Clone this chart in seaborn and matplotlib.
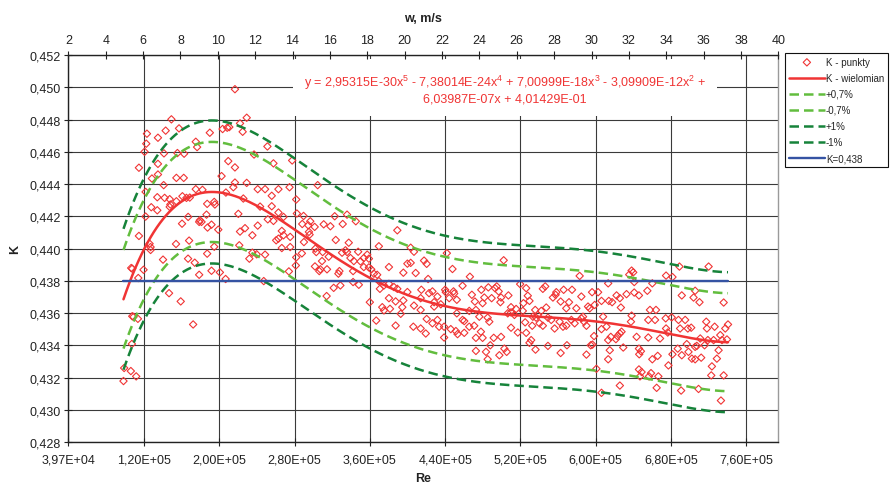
import numpy as np
import pandas as pd
import matplotlib
matplotlib.use("Agg")
import matplotlib.pyplot as plt
import seaborn as sns

# ---------------- data ----------------
# measured points: Reynolds number in thousands, K value
re_k = [
    216.7, 149.2, 229.2, 222.1, 157.3, 143.1, 123.2, 134.9, 190.0, 203.6, 208.5, 210.7, 224.9, 175.1, 176.5,
    122.5, 120.7, 251.2, 155.6, 162.7, 141.3, 237.0, 277.5, 134.9, 209.6, 257.6, 216.7, 114.7, 134.9, 128.5,
    154.5, 162.3, 202.5, 141.0, 216.7, 229.2, 215.0, 304.6, 274.7, 262.9, 248.7, 240.9, 175.1, 182.2, 207.1,
    121.8, 134.2, 142.0, 147.4, 148.1, 147.4, 160.9, 165.2, 168.7, 154.5, 187.2, 194.7, 195.4, 255.8, 225.6,
    127.8, 134.2, 121.8, 281.8, 243.4, 255.8, 262.9, 268.3, 220.3, 186.5, 167.0, 179.4, 181.2, 178.7, 282.5,
    289.6, 296.7, 288.2, 294.6, 301.4, 295.3, 296.0, 322.7, 335.8, 331.2, 345.1, 311.0, 318.1, 160.5, 191.8,
    187.6, 199.0, 227.4, 222.1, 240.9, 251.6, 257.6, 266.5, 262.9, 260.5, 268.3, 275.4, 235.2, 114.7, 389.2,
    290.0, 323.8, 337.6, 302.1, 303.1, 126.0, 127.1, 127.1, 154.1, 168.0, 194.7, 221.3, 235.2, 239.8, 248.7,
    232.0, 266.5, 275.4, 287.8, 281.8, 281.4, 309.9, 309.2, 316.3, 330.5, 334.1, 335.8, 339.4, 347.6, 343.0,
    350.1, 353.6, 357.2, 359.0, 369.6, 140.3, 166.9, 174.0, 187.2, 301.7, 307.4, 306.3, 314.5, 327.7, 326.6,
    342.2, 353.6, 359.0, 361.5, 364.3, 367.8, 380.3, 395.6, 399.9, 106.5, 107.6, 119.6, 178.7, 191.8, 200.7,
    206.8, 274.0, 247.3, 114.0, 342.2, 348.3, 328.7, 369.6, 370.7, 375.0, 380.3, 385.6, 389.2, 321.6, 146.7,
    314.1, 380.3, 387.4, 395.6, 399.9, 159.1, 360.0, 373.2, 375.0, 381.4, 392.8, 394.5, 107.6, 109.0, 113.6,
    172.3, 366.8, 387.4, 107.2, 99.0, 106.1, 111.8, 98.3,
    403.4, 406.9, 403.4, 417.6, 420.4, 441.8, 447.8, 502.2, 408.7, 421.9, 466.3, 582.9, 638.1, 639.8, 635.6,
    674.7, 681.5, 688.9, 719.9, 640.9, 660.1, 613.2, 519.7, 526.1, 546.3, 543.8, 558.1, 565.9, 574.8, 494.8,
    493.0, 496.9, 485.9, 478.4, 458.5, 440.0, 440.7, 448.9, 449.6, 426.5, 422.9, 414.7, 691.4, 705.6, 703.9,
    710.2, 735.9, 596.1, 602.5, 606.1, 613.9, 617.4, 622.1, 625.6, 626.7, 632.7, 640.9, 645.9, 654.8, 584.7,
    591.8, 593.6, 598.9, 571.6, 579.4, 568.7, 562.7, 554.5, 557.3, 547.4, 542.1, 535.7, 529.6, 527.8, 523.2,
    522.5, 515.4, 510.0, 506.5, 498.7, 499.4, 507.2, 489.4, 481.6, 479.8, 471.6, 468.4, 472.7, 465.6, 458.5,
    460.3, 452.4, 452.4, 444.3, 431.8, 428.3, 428.3, 435.4, 414.0, 414.0, 406.9, 485.2, 486.9, 476.3, 420.4,
    426.5, 431.8, 433.6, 438.9, 406.2, 414.0, 419.4, 438.9, 446.0, 451.4, 453.2, 460.3, 465.6, 470.9, 478.0,
    479.8, 472.7, 491.6, 499.4, 488.0, 497.6, 483.4, 485.2, 472.7, 502.9, 505.4, 510.0, 517.2, 526.1, 525.0,
    532.5, 540.3, 543.8, 549.2, 552.7, 556.3, 561.6, 565.2, 568.7, 574.1, 577.6, 584.7, 586.5, 587.6, 590.1,
    533.2, 538.5, 536.7, 513.6, 510.0, 531.4, 529.6, 536.0, 549.2, 562.7, 569.4, 590.1, 594.7, 596.5, 598.2,
    606.1, 607.8, 611.4, 616.0, 614.9, 613.2, 621.4, 623.1, 625.6, 627.4, 629.2, 638.1, 637.4, 643.4, 645.9,
    646.2, 648.0, 655.8, 655.8, 663.0, 664.0, 657.6, 668.3, 674.7, 676.5, 674.3, 680.7, 681.5, 687.9, 689.6,
    695.0, 697.8, 701.4, 705.6, 707.4, 711.0, 717.4, 718.1, 726.3, 732.3, 725.2, 730.5, 737.6, 740.5, 739.4,
    734.1, 719.1, 696.7, 600.7, 613.2, 648.7, 645.9, 647.0, 658.7, 656.6, 666.5, 660.1, 665.8, 677.2, 687.1,
    691.4, 698.5, 702.1, 705.6, 712.0, 715.6, 723.4, 728.7, 722.7, 735.9, 606.1, 625.6, 664.7, 690.7, 709.2,
    733.0,
]
k_pts = [
    0.44988, 0.44801, 0.44811, 0.44776, 0.44745, 0.44731, 0.44712, 0.44687, 0.44718, 0.44741, 0.44749, 0.44753, 0.44724, 0.44662, 0.44629,
    0.44650, 0.44600, 0.44633, 0.44592, 0.44588, 0.44590, 0.44583, 0.44546, 0.44525, 0.44542, 0.44528, 0.44503, 0.44501, 0.44459, 0.44434,
    0.44438, 0.44438, 0.44449, 0.44393, 0.44409, 0.44407, 0.44380, 0.44393, 0.44380, 0.44368, 0.44368, 0.44368, 0.44368, 0.44364, 0.44347,
    0.44351, 0.44318, 0.44314, 0.44306, 0.44273, 0.44258, 0.44324, 0.44314, 0.44316, 0.44293, 0.44277, 0.44289, 0.44273, 0.44327, 0.44310,
    0.44256, 0.44237, 0.44198, 0.44304, 0.44260, 0.44262, 0.44223, 0.44196, 0.44215, 0.44210, 0.44196, 0.44175, 0.44165, 0.44165, 0.44217,
    0.44202, 0.44169, 0.44152, 0.44144, 0.44134, 0.44103, 0.44086, 0.44200, 0.44210, 0.44152, 0.44169, 0.44150, 0.44138, 0.44154, 0.44148,
    0.44130, 0.44117, 0.44126, 0.44105, 0.44142, 0.44181, 0.44171, 0.44109, 0.44061, 0.44051, 0.44082, 0.44072, 0.44082, 0.44078, 0.44113,
    0.44040, 0.44053, 0.44036, 0.43999, 0.43978, 0.44030, 0.44009, 0.43991, 0.44028, 0.44049, 0.44011, 0.44020, 0.43974, 0.43964, 0.43962,
    0.43937, 0.44003, 0.44009, 0.43970, 0.43945, 0.43895, 0.43978, 0.43922, 0.43949, 0.43974, 0.43989, 0.43978, 0.43941, 0.43980, 0.43922,
    0.43920, 0.43941, 0.43962, 0.43937, 0.44014, 0.43931, 0.43937, 0.43912, 0.43968, 0.43889, 0.43871, 0.43860, 0.43871, 0.43860, 0.43844,
    0.43860, 0.43885, 0.43883, 0.43871, 0.43844, 0.43837, 0.43885, 0.43850, 0.43906, 0.43879, 0.43875, 0.43868, 0.43837, 0.43862, 0.43852,
    0.43811, 0.43858, 0.43798, 0.43817, 0.43792, 0.43775, 0.43771, 0.43798, 0.43750, 0.43771, 0.43781, 0.43761, 0.43750, 0.43756, 0.43723,
    0.43705, 0.43692, 0.43672, 0.43678, 0.43730, 0.43672, 0.43667, 0.43636, 0.43616, 0.43626, 0.43595, 0.43636, 0.43580, 0.43576, 0.43564,
    0.43529, 0.43553, 0.43522, 0.43408, 0.43259, 0.43240, 0.43207, 0.43178,
    0.44005, 0.43980, 0.43911, 0.43925, 0.43905, 0.43971, 0.43873, 0.43927, 0.43848, 0.43811, 0.43825, 0.43830, 0.43863, 0.43852, 0.43838,
    0.43832, 0.43823, 0.43888, 0.43888, 0.43792, 0.43784, 0.43784, 0.43779, 0.43754, 0.43765, 0.43750, 0.43729, 0.43744, 0.43744, 0.43765,
    0.43754, 0.43734, 0.43759, 0.43744, 0.43769, 0.43744, 0.43729, 0.43734, 0.43721, 0.43734, 0.43723, 0.43744, 0.43709, 0.43738, 0.43696,
    0.43667, 0.43665, 0.43729, 0.43729, 0.43675, 0.43675, 0.43667, 0.43709, 0.43692, 0.43634, 0.43717, 0.43727, 0.43709, 0.43738, 0.43702,
    0.43640, 0.43629, 0.43650, 0.43667, 0.43629, 0.43629, 0.43671, 0.43696, 0.43713, 0.43634, 0.43613, 0.43619, 0.43675, 0.43707, 0.43661,
    0.43613, 0.43625, 0.43636, 0.43598, 0.43667, 0.43696, 0.43709, 0.43692, 0.43696, 0.43661, 0.43671, 0.43713, 0.43619, 0.43613, 0.43557,
    0.43550, 0.43598, 0.43682, 0.43692, 0.43702, 0.43667, 0.43640, 0.43654, 0.43692, 0.43619, 0.43646, 0.43571, 0.43546, 0.43577, 0.43563,
    0.43536, 0.43557, 0.43515, 0.43515, 0.43515, 0.43504, 0.43473, 0.43448, 0.43500, 0.43488, 0.43469, 0.43477, 0.43515, 0.43521, 0.43484,
    0.43446, 0.43446, 0.43446, 0.43452, 0.43400, 0.43338, 0.43359, 0.43313, 0.43365, 0.43379, 0.43359, 0.43509, 0.43479, 0.43477, 0.43542,
    0.43521, 0.43536, 0.43521, 0.43571, 0.43557, 0.43504, 0.43546, 0.43515, 0.43521, 0.43557, 0.43536, 0.43567, 0.43577, 0.43546, 0.43521,
    0.43577, 0.43588, 0.43571, 0.43588, 0.43604, 0.43432, 0.43415, 0.43373, 0.43396, 0.43352, 0.43400, 0.43342, 0.43400, 0.43404, 0.43457,
    0.43500, 0.43577, 0.43515, 0.43452, 0.43369, 0.43432, 0.43438, 0.43457, 0.43473, 0.43484, 0.43386, 0.43584, 0.43546, 0.43452, 0.43379,
    0.43344, 0.43363, 0.43557, 0.43448, 0.43557, 0.43619, 0.43619, 0.43442, 0.43504, 0.43479, 0.43567, 0.43573, 0.43344, 0.43557, 0.43504,
    0.43557, 0.43504, 0.43509, 0.43390, 0.43396, 0.43442, 0.43546, 0.43504, 0.43515, 0.43463, 0.43432, 0.43369, 0.43504, 0.43529, 0.43436,
    0.43432, 0.43432, 0.43407, 0.43254, 0.43313, 0.43234, 0.43250, 0.43207, 0.43227, 0.43207, 0.43207, 0.43313, 0.43334, 0.43275, 0.43379,
    0.43338, 0.43359, 0.43317, 0.43313, 0.43323, 0.43400, 0.43269, 0.43317, 0.43213, 0.43213, 0.43105, 0.43150, 0.43136, 0.43119, 0.43129,
    0.43057,
]

# trendline coefficients printed on the chart (highest power first)
poly_coef = [2.95315E-30, -7.38014E-24, 7.00999E-18, -3.09909E-12, 6.03987E-07, 4.01429E-01]
band_pct = [0.7, -0.7, 1.0, -1.0]
band_labels = ["+0,7%", "-0,7%", "+1%", "-1%"]
k_ref = 0.438

re_ticks = [39700, 120000, 200000, 280000, 360000, 440000, 520000, 600000, 680000, 760000]
re_tick_labels = ["3,97E+04", "1,20E+05", "2,00E+05", "2,80E+05", "3,60E+05",
                  "4,40E+05", "5,20E+05", "6,00E+05", "6,80E+05", "7,60E+05"]
w_ticks = [2, 4, 6, 8, 10, 12, 14, 16, 18, 20, 22, 24, 26, 28, 30, 32, 34, 36, 38, 40]
k_ticks = [0.428, 0.430, 0.432, 0.434, 0.436, 0.438, 0.440, 0.442, 0.444, 0.446, 0.448, 0.450, 0.452]
re_lim = (39700, 794000)
w_lim = (2, 40)

equation_text = ("y = 2,95315E-30x$^{5}$ - 7,38014E-24x$^{4}$ + 7,00999E-18x$^{3}$ - 3,09909E-12x$^{2}$ +\n"
                 "6,03987E-07x + 4,01429E-01")

# ---------------- styling ----------------
sns.set_theme(style="white")
plt.rcParams["font.family"] = ["Liberation Sans", "DejaVu Sans"]
plt.rcParams["mathtext.fontset"] = "custom"
plt.rcParams["mathtext.rm"] = "Liberation Sans"
plt.rcParams["mathtext.it"] = "Liberation Sans:italic"
plt.rcParams["mathtext.bf"] = "Liberation Sans:bold"

RED = "#f03434"
LGREEN = "#62bd3e"
DGREEN = "#16833a"
BLUE = "#3553a3"
GRID = "#3a3a3a"

fig = plt.figure(figsize=(8.92, 4.85), dpi=100)
ax = fig.add_axes([0.0766, 0.0866, 0.7960, 0.7979])

pts = pd.DataFrame({"Re": np.array(re_k) * 1000.0, "K": k_pts})
re_min, re_max = pts["Re"].min(), pts["Re"].max()
re_curve = np.linspace(re_min, re_max, 400)
k_curve = np.polyval(poly_coef, re_curve)

sns.scatterplot(data=pts, x="Re", y="K", marker="D", s=14, facecolor="none",
                edgecolor=RED, linewidth=0.8, label="K - punkty", ax=ax, zorder=3)
ax.collections[-1].set_facecolor("none")
ax.collections[-1].set_edgecolor(RED)

trend = pd.DataFrame({"Re": re_curve, "K": k_curve})
sns.lineplot(data=trend, x="Re", y="K", color=RED, linewidth=1.8, label="K - wielomian",
             ax=ax, zorder=4)

band_colors = [LGREEN, LGREEN, DGREEN, DGREEN]
for pct, lab, col in zip(band_pct, band_labels, band_colors):
    bd = pd.DataFrame({"Re": re_curve, "K": k_curve * (1 + pct / 100.0)})
    sns.lineplot(data=bd, x="Re", y="K", color=col, linewidth=1.8, label=lab, ax=ax, zorder=4)
    ax.lines[-1].set_dashes((3.8, 2.0))

ref = pd.DataFrame({"Re": [re_min, re_max], "K": [k_ref, k_ref]})
sns.lineplot(data=ref, x="Re", y="K", color=BLUE, linewidth=1.7, label="K=0,438", ax=ax, zorder=4)

# axes
ax.set_xlim(*re_lim)
ax.set_ylim(k_ticks[0], k_ticks[-1])
ax.set_xticks(re_ticks)
ax.set_xticklabels(re_tick_labels)
ax.set_yticks(k_ticks)
ax.set_yticklabels([f"{v:.3f}".replace(".", ",") for v in k_ticks])
ax.grid(True, color=GRID, linewidth=0.8)
ax.set_axisbelow(True)
ax.tick_params(axis="both", labelsize=9, colors="#222222", direction="inout",
               length=6, width=0.8, left=True, bottom=True)
ax.tick_params(axis="x", pad=5.0)
ax.tick_params(axis="y", pad=2.5)
for s in ["left", "bottom"]:
    ax.spines[s].set_color("#222222")
    ax.spines[s].set_linewidth(1.0)
ax.spines["top"].set_visible(False)
ax.spines["right"].set_color("#9a9a9a")
ax.spines["right"].set_linewidth(1.0)

ax.set_xlabel("Re", fontsize=9, fontweight="bold", color="#222222")
ax.xaxis.set_label_coords(0.5, -0.078)
ax.set_ylabel("K", fontsize=9, fontweight="bold", color="#222222")
ax.yaxis.set_label_coords(-0.066, 0.5)

# secondary top axis (velocity)
ax2 = ax.twiny()
ax2.set_xlim(*w_lim)
ax2.set_xticks(w_ticks)
ax2.set_xticklabels([str(v) for v in w_ticks])
ax2.tick_params(axis="x", labelsize=9, colors="#222222", direction="inout",
                length=6, width=0.8, pad=3.5, top=True)
for s in ["left", "right", "bottom"]:
    ax2.spines[s].set_visible(False)
ax2.spines["top"].set_color("#222222")
ax2.spines["top"].set_linewidth(1.0)
ax2.grid(False)
ax2.set_xlabel("w, m/s", fontsize=9, fontweight="bold", color="#222222")
ax2.xaxis.set_label_coords(0.5, 1.088)

# trendline equation
ax.text(0.615, 0.913, equation_text, transform=ax.transAxes, fontsize=9, color=RED,
        ha="center", va="center", linespacing=1.25, zorder=6,
        bbox=dict(boxstyle="square,pad=0.9", facecolor="white", edgecolor="none"))

# legend
leg = ax.legend(loc="upper left", bbox_to_anchor=(785 / 892, 1 - 54 / 485),
                bbox_transform=fig.transFigure, borderaxespad=0, fontsize=7,
                frameon=True, fancybox=False, edgecolor="#111111", framealpha=1,
                handlelength=3.7, handletextpad=0.1, labelspacing=0.62,
                borderpad=0.4)
leg.get_frame().set_linewidth(0.8)

fig.savefig("out.png", dpi=100)
